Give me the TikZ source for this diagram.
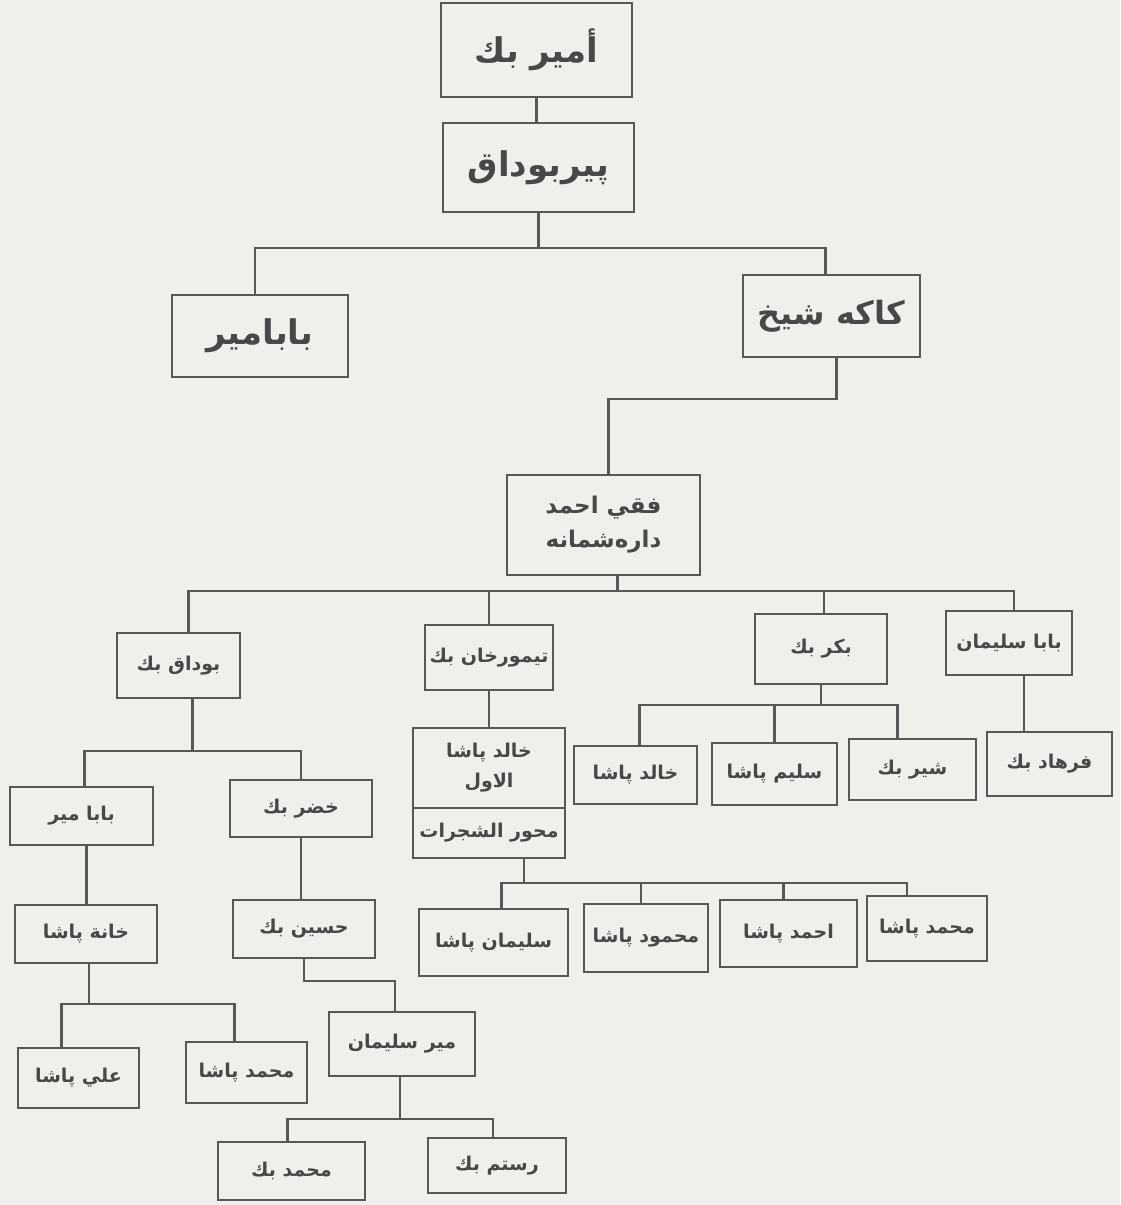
\documentclass[tikz,border=0pt]{standalone}
\usepackage{fontspec}
\newfontfamily\arabicfont[Script=Arabic]{DejaVu Sans}
\TeXXeTstate=1
\newcommand\rl[1]{\beginR #1\endR}
\definecolor{paper}{RGB}{241,239,235}
\definecolor{linec}{RGB}{88,88,88}
\definecolor{inkc}{RGB}{72,72,72}
\tikzset{
  box/.style={draw=linec, line width=2.4pt, text=inkc, inner sep=0pt, align=center},
  conn/.style={draw=linec, line width=2.2pt},
  fbig/.style={font=\arabicfont\bfseries\fontsize{34}{44}\selectfont},
  fmid/.style={font=\arabicfont\bfseries\fontsize{23}{34}\selectfont},
  fsm/.style={font=\arabicfont\bfseries\fontsize{19}{30}\selectfont},
}
\begin{document}
\begin{tikzpicture}[x=1pt,y=-1pt]
\fill[paper] (0,0) rectangle (1120,1205);
\useasboundingbox (0,0) rectangle (1120,1205);
% nodes
\node[box,fbig,minimum width=191pt,minimum height=94pt] (amir) at (536.5,50) {\rl{أمير بك}};
\node[box,fbig,minimum width=191pt,minimum height=89pt] (pir) at (538.5,167.5) {\rl{پيربوداق}};
\node[box,fbig,minimum width=176pt,minimum height=82pt] (babamir) at (260,336) {\rl{بابامير}};
\node[box,fbig,font=\arabicfont\bfseries\fontsize{32}{44}\selectfont,minimum width=177pt,minimum height=82pt] (kaka) at (831.5,316) {\rl{كاكه شيخ}};
\node[box,fmid,minimum width=193pt,minimum height=100pt] (faqi) at (603.5,525) {\rl{فقي احمد}\\\rl{داره‌شمانه}};
\node[box,fsm,minimum width=123pt,minimum height=65pt] (budaq) at (178.5,665.5) {\rl{بوداق بك}};
\node[box,fsm,minimum width=128pt,minimum height=65pt] (timour) at (489,657.5) {\rl{تيمورخان بك}};
\node[box,fsm,minimum width=132pt,minimum height=70pt] (bakr) at (821,649) {\rl{بكر بك}};
\node[box,fsm,minimum width=126pt,minimum height=64pt] (babasul) at (1009,643) {\rl{بابا سليمان}};
\node[box,fsm,minimum width=125pt,minimum height=64pt] (farhad) at (1049.5,764) {\rl{فرهاد بك}};
\node[box,fsm,minimum width=127pt,minimum height=61pt] (shir) at (912.5,769.5) {\rl{شير بك}};
\node[box,fsm,minimum width=125pt,minimum height=62pt] (salim) at (774.5,774) {\rl{سليم پاشا}};
\node[box,fsm,minimum width=123pt,minimum height=58pt] (khalid) at (635.5,775) {\rl{خالد پاشا}};
\node[box,fsm,minimum width=152pt,minimum height=80pt] (khalidA) at (489,768) {\rl{خالد پاشا}\\\rl{الاول}};
\node[box,fsm,minimum width=152pt,minimum height=50pt] (khalidB) at (489,833) {\rl{محور الشجرات}};
\node[box,fsm,minimum width=143pt,minimum height=58pt] (babamirB) at (81.5,816) {\rl{بابا مير}};
\node[box,fsm,minimum width=142pt,minimum height=57pt] (khidr) at (301,808.5) {\rl{خضر بك}};
\node[box,fsm,minimum width=142pt,minimum height=58pt] (khana) at (86,934) {\rl{خانة پاشا}};
\node[box,fsm,minimum width=142pt,minimum height=58pt] (husayn) at (304,929) {\rl{حسين بك}};
\node[box,fsm,minimum width=149pt,minimum height=67pt] (sulpasha) at (493.5,942.5) {\rl{سليمان پاشا}};
\node[box,fsm,minimum width=124pt,minimum height=68pt] (mahmud) at (646,938) {\rl{محمود پاشا}};
\node[box,fsm,minimum width=137pt,minimum height=67pt] (ahmad) at (788.5,933.5) {\rl{احمد پاشا}};
\node[box,fsm,minimum width=120pt,minimum height=65pt] (muhpasha) at (927,928.5) {\rl{محمد پاشا}};
\node[box,fsm,minimum width=121pt,minimum height=60pt] (ali) at (78.5,1078) {\rl{علي پاشا}};
\node[box,fsm,minimum width=121pt,minimum height=61pt] (muhB) at (246.5,1072.5) {\rl{محمد پاشا}};
\node[box,fsm,minimum width=146pt,minimum height=64pt] (mirsul) at (402,1044) {\rl{مير سليمان}};
\node[box,fsm,minimum width=147pt,minimum height=58pt] (muhbek) at (291.5,1171) {\rl{محمد بك}};
\node[box,fsm,minimum width=138pt,minimum height=55pt] (rustam) at (497,1165.5) {\rl{رستم بك}};
% connectors
\draw[conn] (amir.south) -- (amir.south |- pir.north);
\draw[conn] (pir.south) -- ++(0,35) coordinate (j1);
\draw[conn] ([xshift=-5pt]babamir.north) |- (j1) -| ([xshift=-6pt]kaka.north);
\draw[conn] ([xshift=5pt]kaka.south) -- ++(0,41) -| ([xshift=5pt]faqi.north);
\draw[conn] ([xshift=14pt]faqi.south) -- ++(0,15) coordinate (j2);
\draw[conn] ([xshift=10pt]budaq.north) |- (j2) -| ([xshift=5pt]babasul.north);
\draw[conn] (timour.north) -- (timour.north |- j2);
\draw[conn] ([xshift=3pt]bakr.north) -- ([xshift=3pt]bakr.north |- j2);
\draw[conn] (bakr.south) -- ++(0,20) coordinate (j3);
\draw[conn] ([xshift=4pt]khalid.north) |- (j3) -| ([xshift=-15pt]shir.north);
\draw[conn] (salim.north) -- (salim.north |- j3);
\draw[conn] ([xshift=15pt]babasul.south) -- ([xshift=15pt]babasul.south |- farhad.north);
\draw[conn] (timour.south) -- (timour.south |- khalidA.north);
\draw[conn] ([xshift=35pt]khalidB.south) -- ++(0,24) coordinate (j4);
\draw[conn] ([xshift=8pt]sulpasha.north) |- (j4) -| ([xshift=-20pt]muhpasha.north);
\draw[conn] ([xshift=-5pt]mahmud.north) -- ([xshift=-5pt]mahmud.north |- j4);
\draw[conn] ([xshift=-5pt]ahmad.north) -- ([xshift=-5pt]ahmad.north |- j4);
\draw[conn] ([xshift=14pt]budaq.south) -- ++(0,52) coordinate (j5);
\draw[conn] ([xshift=3pt]babamirB.north) |- (j5) -| (khidr.north);
\draw[conn] ([xshift=5pt]babamirB.south) -- ([xshift=5pt]babamirB.south |- khana.north);
\draw[conn] (khidr.south) -- (khidr.south |- husayn.north);
\draw[conn] ([xshift=3pt]khana.south) -- ++(0,40) coordinate (j6);
\draw[conn] ([xshift=-17pt]ali.north) |- (j6) -| ([xshift=-12pt]muhB.north);
\draw[conn] (husayn.south) -- ++(0,22) -| ([xshift=-7pt]mirsul.north);
\draw[conn] ([xshift=-2pt]mirsul.south) -- ++(0,42) coordinate (j7);
\draw[conn] ([xshift=-4pt]muhbek.north) |- (j7) -| ([xshift=-4pt]rustam.north);
\end{tikzpicture}
\end{document}
